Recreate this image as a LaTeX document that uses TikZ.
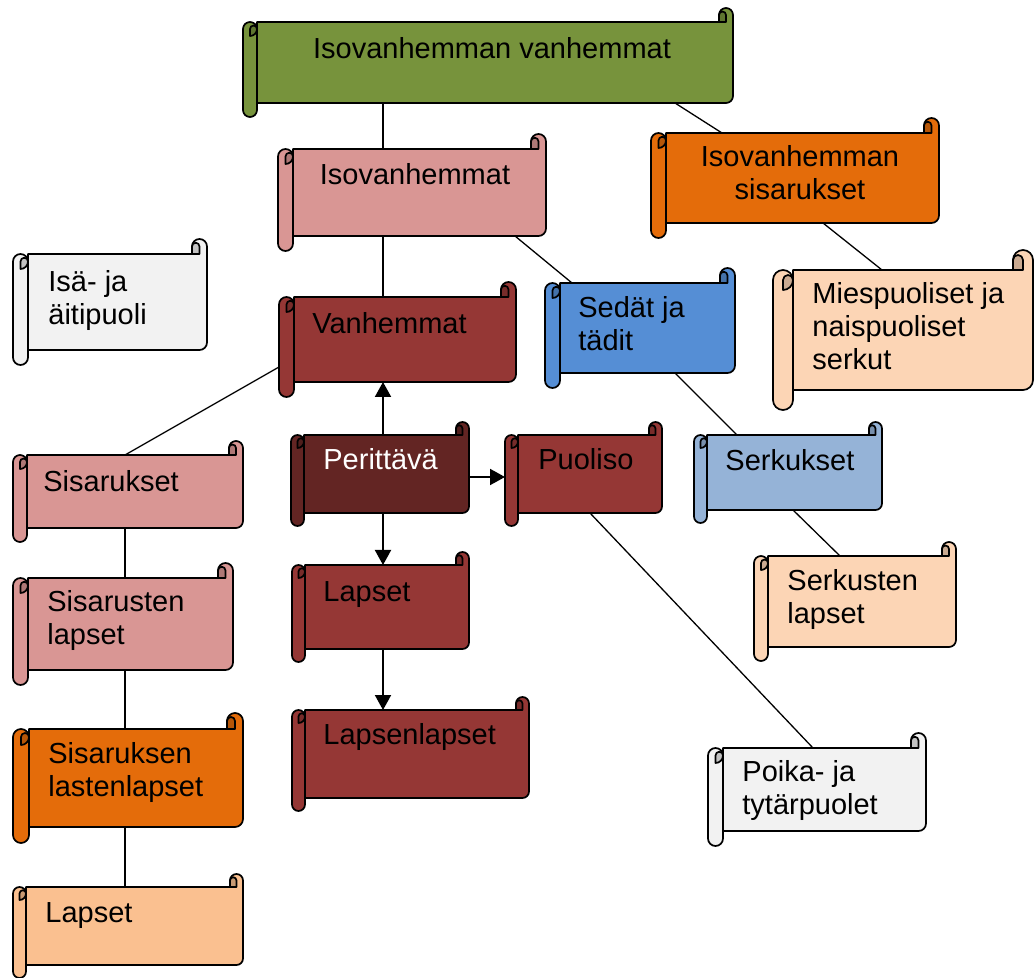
\documentclass[tikz,border=0pt]{standalone}
\usepackage{fontspec}
\setmainfont{Liberation Sans}
\usepackage{tikz}
\usetikzlibrary{arrows.meta, calc, fit}

\definecolor{FamGreen}{RGB}{119,147,60}
\definecolor{FamRose}{RGB}{217,150,148}
\definecolor{FamOrange}{RGB}{228,108,10}
\definecolor{FamGray}{RGB}{242,242,242}
\definecolor{FamRed}{RGB}{149,55,53}
\definecolor{FamBlue}{RGB}{85,142,213}
\definecolor{FamPeach}{RGB}{252,213,181}
\definecolor{FamMaroon}{RGB}{99,37,35}
\definecolor{FamSky}{RGB}{149,179,215}
\definecolor{FamApricot}{RGB}{250,192,144}

% scroll: [roll]{name}{x0}{y0}{x1}{y1}{fill}, body corners in px
\newcommand{\scroll}[7][15]{%
  \pgfmathsetmacro\scrHalf{#1/2}\pgfmathsetmacro\scrQuart{#1/4}
  \draw[scrollline, fill=#7] (#3,#4) -- ({#5-#1},#4) -- ({#5-#1},{#4-\scrHalf})
    arc[start angle=180, end angle=360, radius=\scrHalf] -- (#5,{#6-\scrHalf})
    arc[start angle=0, end angle=90, radius=\scrHalf] -- (#3,#6) -- cycle;
  \draw[scrollline, fill=#7!80!black] ({#5-#1},#4) -- ({#5-#1},{#4-\scrHalf})
    arc[start angle=180, end angle=360, radius=\scrQuart] -- ({#5-\scrHalf},#4) -- cycle;
  \draw[scrollline, fill=#7] (#3,{#4+\scrHalf})
    arc[start angle=0, end angle=-180, radius=\scrHalf] -- ({#3-#1},{#6+\scrHalf})
    arc[start angle=180, end angle=0, radius=\scrHalf] -- cycle;
  \draw[scrollline, fill=#7!80!black] ({#3-\scrHalf},{#4+#1})
    arc[start angle=90, end angle=0, radius=\scrHalf]
    arc[start angle=0, end angle=-180, radius=\scrQuart] -- cycle;
  \node[fit={(#3,#4) (#5,#6)}, inner sep=0pt, outer sep=0pt] (#2) {};
}

\begin{document}
\begin{tikzpicture}[x=0.5pt, y=-0.5pt,
    scrollline/.style={draw=black, line width=0.85pt, line join=round},
    txt/.style={inner sep=0pt, anchor=north west, align=left,
                font=\fontsize{14.5}{16.5}\selectfont, execute at begin node=\strut},
    link/.style={line width=0.65pt},
    arr/.style={-{Triangle[length=7.5pt, width=8pt]}, line width=1pt}
  ]
  \useasboundingbox (0,0) rectangle (1034,978);

  % grandparents' side
  \scroll[14]{ivv}{257}{22}{733}{103}{FamGreen}
  \node[txt, anchor=north] (ivvTxt) at (492,35) {Isovanhemman vanhemmat};
  \scroll{iv}{293}{149}{546}{236}{FamRose}
  \node[txt, anchor=north] (ivTxt) at (415,161) {Isovanhemmat};
  \scroll{is}{666}{133}{939}{223}{FamOrange}
  \node[txt, anchor=north, align=center] (isTxt) at (800,145) {Isovanhemman\\sisarukset};
  \scroll{isa}{28}{254}{207}{350}{FamGray}
  \node[txt] (isaTxt) at (48,270) {Isä- ja\\äitipuoli};
  \scroll{vanh}{294}{297}{516}{382}{FamRed}
  \node[txt] (vanhTxt) at (312,310) {Vanhemmat};
  \scroll{sedat}{560}{283}{735}{373}{FamBlue}
  \node[txt] (sedatTxt) at (578,296) {Sedät ja\\tädit};
  \scroll[20]{mies}{793}{270}{1033}{390}{FamPeach}
  \node[txt] (miesTxt) at (812,282) {Miespuoliset ja\\naispuoliset\\serkut};

  % own generation
  \scroll[14]{sisar}{27}{455}{243}{528}{FamRose}
  \node[txt] (sisarTxt) at (43,468) {Sisarukset};
  \scroll[13]{perit}{304}{435}{469}{513}{FamMaroon}
  \node[txt, text=white] (peritTxt) at (323,446) {Perittävä};
  \scroll[13]{puol}{518}{435}{662}{513}{FamRed}
  \node[txt] (puolTxt) at (538,446) {Puoliso};
  \scroll[13]{serkuk}{707}{435}{882}{510}{FamSky}
  \node[txt] (serkukTxt) at (725,447) {Serkukset};

  % children
  \scroll{sislap}{28}{578}{233}{670}{FamRose}
  \node[txt] (sislapTxt) at (47,590) {Sisarusten\\lapset};
  \scroll[13]{lapset}{305}{565}{469}{649}{FamRed}
  \node[txt] (lapsetTxt) at (323,578) {Lapset};
  \scroll[14]{serlap}{768}{556}{956}{647}{FamPeach}
  \node[txt] (serlapTxt) at (787,569) {Serkusten\\lapset};
  \scroll[13]{lapsenl}{305}{710}{529}{798}{FamRed}
  \node[txt] (lapsenlTxt) at (323,721) {Lapsenlapset};
  \scroll{poika}{723}{748}{926}{831}{FamGray}
  \node[txt] (poikaTxt) at (742,760) {Poika- ja\\tytärpuolet};
  \scroll[16]{sislast}{29}{729}{243}{827}{FamOrange}
  \node[txt] (sislastTxt) at (48,742) {Sisaruksen\\lastenlapset};
  \scroll[13]{lapsetb}{26}{887}{243}{965}{FamApricot}
  \node[txt] (lapsetbTxt) at (45,899) {Lapset};

  % plain links
  \draw[link] ($(ivv.south west)+(126,0)$) -- ($(iv.north west)+(90,0)$);
  \draw[link] ($(ivv.south west)+(418,0)$) -- ($(is.north west)+(56,0)$);
  \draw[link] ($(iv.south west)+(90,0)$) -- ($(vanh.north west)+(89,0)$);
  \draw[link] ($(iv.south west)+(222,0)$) -- ($(sedat.north west)+(12,0)$);
  \draw[link] ($(is.south west)+(157,0)$) -- ($(mies.north west)+(89,0)$);
  \draw[link] ($(sedat.south west)+(115,0)$) -- ($(serkuk.north west)+(30,0)$);
  \draw[link] ($(serkuk.south west)+(86,0)$) -- ($(serlap.north west)+(72,0)$);
  \draw[link] ($(vanh.north west)+(-15,70)$) -- ($(sisar.north west)+(98,0)$);
  \draw[link] ($(sisar.south west)+(98,0)$) -- ($(sislap.north west)+(97,0)$);
  \draw[link] ($(sislap.south west)+(97,0)$) -- ($(sislast.north west)+(96,0)$);
  \draw[link] ($(sislast.south west)+(96,0)$) -- ($(lapsetb.north west)+(99,0)$);
  \draw[link] ($(puol.south west)+(72,0)$) -- ($(poika.north west)+(90,0)$);

  % arrows from Perittävä
  \draw[arr] ($(perit.north west)+(79,0)$) -- ($(vanh.south west)+(89,0)$);
  \draw[arr] ($(perit.north east)+(0,42)$) -- ($(puol.north west)+(-13,42)$);
  \draw[arr] ($(perit.south west)+(79,0)$) -- ($(lapset.north west)+(78,0)$);
  \draw[arr] ($(lapset.south west)+(78,0)$) -- ($(lapsenl.north west)+(78,0)$);
\end{tikzpicture}
\end{document}
